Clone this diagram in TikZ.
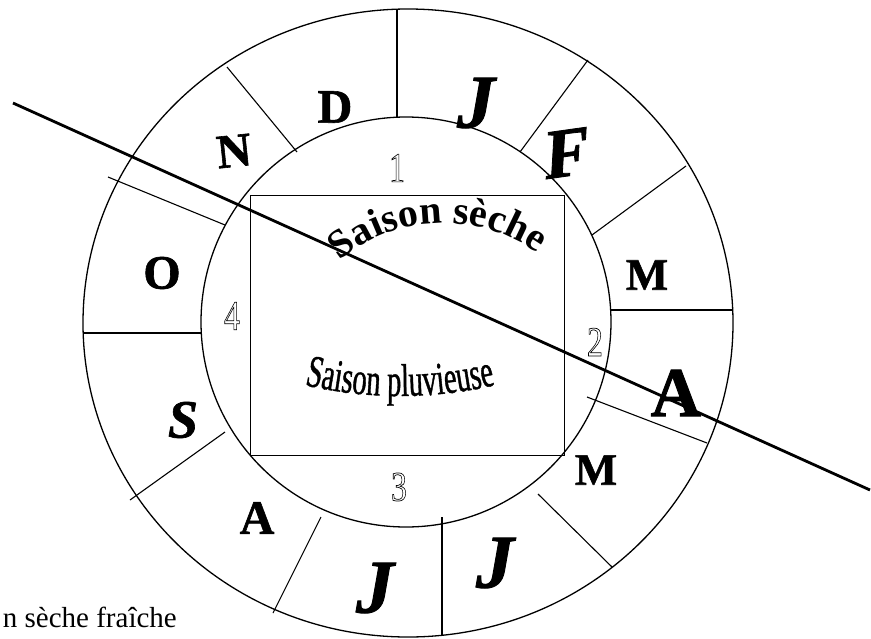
\documentclass[tikz,border=0pt]{standalone}
\usepackage{fontspec}
\setmainfont{Liberation Serif}
\newfontfamily\heavy[FakeBold=1.2]{Liberation Serif}
\newfontfamily\condensed[FakeStretch=0.62,FakeBold=0.8]{Liberation Serif}
\usetikzlibrary{decorations.text}
\tikzset{
  ring/.style={line width=1.3pt},
  divider/.style={line width=1.1pt},
  month/.style={font=\heavy\fontsize{48}{48}\selectfont\bfseries, inner sep=0pt},
  smallmonth/.style={font=\heavy\fontsize{45}{45}\selectfont\bfseries, inner sep=0pt},
  bigmonth/.style={font=\heavy\fontsize{70}{70}\selectfont\bfseries, inner sep=0pt},
  italmonth/.style={font=\heavy\fontsize{76}{76}\selectfont\bfseries\itshape, inner sep=0pt},
  quarter/.style={font=\fontsize{42}{42}\selectfont, inner sep=0pt, xscale=0.75},
}
\newcommand{\hollowtext}[1]{\special{pdf:literal direct 1 Tr 0.7 w}#1\special{pdf:literal direct 0 Tr}}
\begin{document}
\begin{tikzpicture}[x=1pt,y=1pt]
\useasboundingbox (0,0) rectangle (871,-638);
\coordinate (c) at (406,-322);
\coordinate (co) at (408,-323);
% rings
\draw[ring] (co) ellipse [x radius=325, y radius=314];
\draw[ring] (c) circle [radius=205];
% inner rectangle
\draw[line width=1pt] (250,-195) rectangle (564,-455);
% month dividers
\draw[divider] (397,-117) -- (397,-9);
\draw[divider] (520,-152) -- (588,-60);
\draw[divider] (592,-235) -- (686,-166);
\draw[divider] (611,-310) -- (733,-310);
\draw[divider] (587,-397) -- (707,-443);
\draw[divider] (538,-494) -- (612,-567);
\draw[divider] (442,-517) -- (442,-636);
\draw[divider] (321,-517) -- (273,-613);
\draw[divider] (225,-432) -- (130,-500);
\draw[divider] (83,-333) -- (202,-333);
\draw[divider] (108,-177) -- (225,-225);
\draw[divider] (227,-67) -- (297,-152);
% diagonal
\coordinate (d1) at (13,-103);
\coordinate (d2) at (870,-490);
\draw[line width=2.8pt] (d1) -- (d2);
% months
\node[month] (mD) at (335,-107) {D};
\node[italmonth] (mJ1) at (476,-103) {J};
\node[bigmonth, rotate=8, xslant=0.2] (mF) at (567,-153) {F};
\node[smallmonth] (mM1) at (647,-275) {M};
\node[bigmonth] (mA1) at (676,-393) {A};
\node[smallmonth] (mM2) at (596,-470) {M};
\node[italmonth] (mJ2) at (495,-563) {J};
\node[italmonth] (mJ3) at (375,-588) {J};
\node[month] (mA2) at (257,-518) {A};
\node[font=\heavy\fontsize{54}{54}\selectfont\bfseries\itshape, inner sep=0pt] (mS) at (183,-420) {S};
\node[month] (mO) at (162,-273) {O};
\node[month, rotate=6] (mN) at (234,-151) {N};
% quarter numbers
\node[quarter] (q1) at (397,-168) {\hollowtext{1}};
\node[quarter] (q2) at (595,-342) {\hollowtext{2}};
\node[quarter] (q3) at (399,-487) {\hollowtext{3}};
\node[quarter] (q4) at (232,-316) {\hollowtext{4}};
% curved texts
\path[decorate, decoration={text along path, text align=center,
  text={|\fontsize{40}{40}\selectfont\bfseries|Saison sèche}}]
  (443,-383) ++(140:160) arc[start angle=140, end angle=44, radius=160];
\path[decorate, decoration={text along path, text align=center,
  text={|\condensed\fontsize{46}{46}\selectfont|Saison pluvieuse}}]
  (400,24) ++(250:420) arc[start angle=250, end angle=290, radius=420];
% bottom-left text
\node[anchor=base east, inner sep=0pt, font=\fontsize{29}{29}\selectfont] (legend) at (177,-627) {n sèche fraîche};
\end{tikzpicture}
\end{document}
